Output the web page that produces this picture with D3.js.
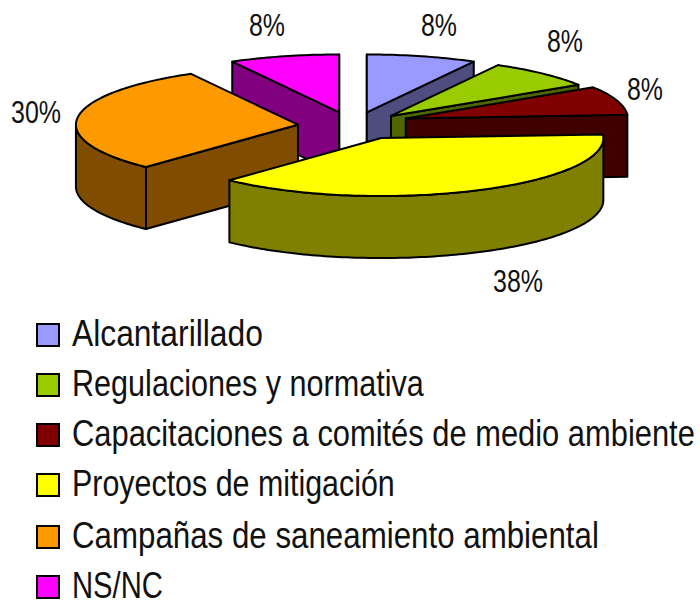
<!DOCTYPE html>
<html><head><meta charset="utf-8">
<script src="https://cdn.jsdelivr.net/npm/d3@7"></script>
<style>html,body{margin:0;padding:0;background:#fff}svg{display:block}text{font-family:"Liberation Sans",Arial,sans-serif;fill:#111}</style>
</head><body><div id="c"></div>
<script>
const categories = ["Alcantarillado","Regulaciones y normativa","Capacitaciones a comités de medio ambiente","Proyectos de mitigación","Campañas de saneamiento ambiental","NS/NC"];
const values = [8,8,8,38,30,8];
const topColors = ["#9999FF","#99CC00","#800000","#FFFF00","#FF9900","#FF00FF"];
const sideColors = ["#4D4D80","#4D6600","#400000","#808000","#804D00","#800080"];
const labelX = [439,565,645,518,36,267];
const labelY = [36,52,100,292,123,36];
const labelWidths = [36,36,36,50,50,36];
const legendWidths = [191,352,623,323,527,91];
const legendTops = [324,374,424,474,526,576];
const explodeX = [0.25,0.25,0.25,0.30,0.25,0.25];
const explodeY = [0.25,0.25,0.45,0.22,0.25,0.25];

const W=700,H=600,depth=62,TAU=2*Math.PI;
const x=d3.scaleLinear().domain([-1,1]).range([353-222,353+222]);
const y=d3.scaleLinear().domain([-1,1]).range([126.5+58,126.5-58]);
const svg=d3.select("#c").append("svg").attr("width",W).attr("height",H);
const arcs=d3.pie().sort(null).startAngle(0).endAngle(TAU)(values).map((d,i)=>({...d,i}));
const line=d3.line().curve(d3.curveLinear);
const pt=(a,o)=>[x(o[0]+Math.sin(a)),y(o[1]+Math.cos(a))];
const drawOrder=[5,0,1,2,4,3];
const g=svg.append("g").attr("stroke","#000").attr("stroke-width",2).attr("stroke-linejoin","round");
function sample(a0,a1){const n=Math.max(2,Math.ceil((a1-a0)/0.02));return d3.range(n+1).map(k=>a0+(a1-a0)*k/n);}
drawOrder.forEach(idx=>{
  const d=arcs[idx],mid=(d.startAngle+d.endAngle)/2;
  const o=[explodeX[idx]*Math.sin(mid),explodeY[idx]*Math.cos(mid)];
  const apex=[x(o[0]),y(o[1])];
  const dn=p=>[p[0],p[1]+depth];
  const s=pt(d.startAngle,o),e=pt(d.endAngle,o);
  const faces=[];
  if(Math.sin(d.startAngle)<-1e-6||Math.abs(d.startAngle)<1e-6) faces.push([apex,s,dn(s),dn(apex)]);
  if(Math.sin(d.endAngle)>1e-6||Math.abs(d.endAngle-TAU)<1e-6) faces.push([apex,e,dn(e),dn(apex)]);
  const lo=Math.max(d.startAngle,Math.PI/2),hi=Math.min(d.endAngle,3*Math.PI/2);
  if(hi>lo){const top=sample(lo,hi).map(a=>pt(a,o));faces.push([...top,...top.slice().reverse().map(dn)]);}
  faces.forEach(f=>g.append("path").attr("d",line(f)+"Z").attr("fill",sideColors[idx]));
  const rim=sample(d.startAngle,d.endAngle).map(a=>pt(a,o));
  g.append("path").attr("d",line([apex,...rim])+"Z").attr("fill",topColors[idx]);
});
// narrow the installed sans to the reference's condensed widths
function fit(sel,widthOf,xOf,yOf){
  sel.each(function(d,i){
    const n=this.getComputedTextLength(),sx=widthOf(i)/n;
    d3.select(this).attr("transform",`translate(${xOf(i)},${yOf(i)}) scale(${sx},1)`);
  });
}
const lab=svg.append("g").selectAll("text").data(values).join("text")
 .attr("text-anchor","middle").attr("font-size",32).text(d=>d+"%");
fit(lab,i=>labelWidths[i],i=>labelX[i],i=>labelY[i]);
const legG=svg.append("g");
legG.selectAll("rect").data(categories).join("rect").attr("x",37).attr("y",(d,i)=>legendTops[i]).attr("width",22).attr("height",22)
 .attr("fill",(d,i)=>topColors[i]).attr("stroke","#000").attr("stroke-width",2);
const legT=legG.selectAll("text").data(categories).join("text").attr("font-size",36.5).text(d=>d);
fit(legT,i=>legendWidths[i],()=>72,i=>legendTops[i]+22);
</script></body></html>
